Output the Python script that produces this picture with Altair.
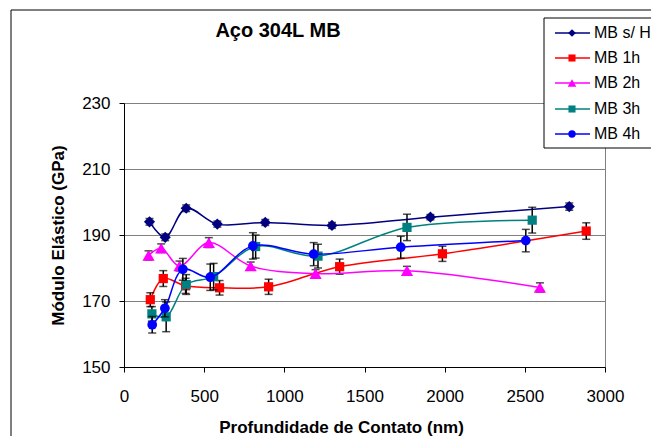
import altair as alt
import pandas as pd

# ---- data ----
series = ["MB s/ H", "MB 1h", "MB 2h", "MB 3h", "MB 4h"]
colors = ["#000080", "#FF0000", "#FF00FF", "#008080", "#0000FF"]
shapes = ["diamond", "square", "triangle-up", "square", "circle"]
sizes = [125, 85, 150, 85, 95]
leg_sizes = [60, 50, 75, 50, 55]

x_sh = [159, 257, 388, 582, 881, 1297, 1911, 2777]
y_sh = [194.0, 189.3, 198.1, 193.3, 193.8, 192.9, 195.4, 198.6]
e_sh = [1.0, 1.0, 1.0, 0.9, 0.9, 0.9, 0.8, 1.1]

x_1h = [164, 245, 384, 596, 902, 1345, 1986, 2883]
y_1h = [170.4, 176.8, 174.6, 174.0, 174.3, 180.4, 184.3, 191.2]
e_1h = [2.1, 2.4, 2.3, 2.2, 2.3, 2.3, 2.3, 2.5]

x_2h = [153, 232, 346, 529, 790, 1195, 1765, 2594]
y_2h = [183.8, 186.0, 180.6, 187.7, 180.6, 178.3, 179.2, 174.1]
e_2h = [1.4, 1.3, 1.5, 1.5, 1.2, 1.2, 1.3, 1.4]

x_3h = [174, 263, 388, 559, 821, 1210, 1765, 2546]
y_3h = [166.1, 165.2, 175.0, 177.4, 186.5, 183.6, 192.3, 194.5]
e_3h = [2.2, 4.5, 3.0, 4.0, 3.5, 3.6, 4.0, 3.9]

x_4h = [176, 255, 367, 538, 804, 1183, 1726, 2506]
y_4h = [162.8, 167.8, 179.6, 177.2, 186.7, 184.2, 186.3, 188.3]
e_4h = [2.5, 2.6, 3.3, 4.0, 4.0, 3.5, 3.3, 3.4]

xs = [x_sh, x_1h, x_2h, x_3h, x_4h]
ys = [y_sh, y_1h, y_2h, y_3h, y_4h]
es = [e_sh, e_1h, e_2h, e_3h, e_4h]

x_ticks = [0, 500, 1000, 1500, 2000, 2500, 3000]
y_ticks = [150, 170, 190, 210, 230]

FONT = "Liberation Sans"

x_axis = alt.Axis(values=x_ticks, format="d", grid=False, tickSize=5, tickColor="black",
                  domainColor="black", labelFont=FONT, labelFontSize=17,
                  labelColor="black", labelPadding=16, labelFlush=False,
                  title="Profundidade de Contato (nm)", titleFont=FONT,
                  titleFontSize=17, titleFontWeight="bold", titleColor="black",
                  titleX=217, titleY=60, titleAlign="center", titleBaseline="middle")
y_axis = alt.Axis(values=y_ticks, format="d", grid=True, gridColor="#808080", tickSize=5,
                  tickColor="black", domainColor="black", labelFont=FONT,
                  labelFontSize=17, labelColor="black", labelPadding=9,
                  title="Módulo Elástico (GPa)", titleFont=FONT, titleFontSize=17,
                  titleFontWeight="bold", titleColor="black", titleAngle=270,
                  titleX=-66, titleY=132, titleAlign="center", titleBaseline="middle")

xsc = alt.Scale(domain=[0, 3000], nice=False, zero=False)
ysc = alt.Scale(domain=[150, 230], nice=False, zero=False)

one = pd.DataFrame({"a": [0]})

layers = []
# outer chart border
layers.append(alt.Chart(one).mark_rect(fillOpacity=0, stroke="black", strokeWidth=1).encode(
    x=alt.value(-113), x2=alt.value(620), y=alt.value(-93), y2=alt.value(360)))

for i, name in enumerate(series):
    df = pd.DataFrame({"x": xs[i], "y": ys[i]})
    df["lo"] = [a - b for a, b in zip(ys[i], es[i])]
    df["hi"] = [a + b for a, b in zip(ys[i], es[i])]
    X = alt.X("x:Q", scale=xsc, axis=x_axis)
    base = alt.Chart(df)
    line = base.mark_line(color=colors[i], strokeWidth=1.5, interpolate="catmull-rom").encode(
        x=X, y=alt.Y("y:Q", scale=ysc, axis=y_axis))
    rule = base.mark_rule(color="black", strokeWidth=1.5).encode(
        x=X, y=alt.Y("lo:Q", scale=ysc, axis=y_axis), y2="hi:Q")
    cap_lo = base.mark_tick(orient="horizontal", size=8, thickness=1.5, color="black").encode(
        x=X, y=alt.Y("lo:Q", scale=ysc, axis=y_axis))
    cap_hi = base.mark_tick(orient="horizontal", size=8, thickness=1.5, color="black").encode(
        x=X, y=alt.Y("hi:Q", scale=ysc, axis=y_axis))
    pts = base.mark_point(shape=shapes[i], filled=True, size=sizes[i], color=colors[i],
                          opacity=1).encode(x=X, y=alt.Y("y:Q", scale=ysc, axis=y_axis))
    layers += [line, rule, cap_lo, cap_hi, pts]

# title
layers.append(alt.Chart(one).mark_text(font=FONT, fontSize=20, fontWeight="bold",
                                       color="black", align="center", baseline="middle").encode(
    x=alt.value(154), y=alt.value(-72), text=alt.value("Aço 304L MB")))

# legend box
layers.append(alt.Chart(one).mark_rect(fill="white", stroke="black", strokeWidth=1).encode(
    x=alt.value(420), x2=alt.value(620), y=alt.value(-85), y2=alt.value(45)))
leg_y = [-70, -45, -20, 6, 31]
for i, name in enumerate(series):
    layers.append(alt.Chart(one).mark_rule(color=colors[i], strokeWidth=1.5).encode(
        x=alt.value(431), x2=alt.value(466), y=alt.value(leg_y[i])))
    layers.append(alt.Chart(one).mark_point(shape=shapes[i], filled=True, size=leg_sizes[i],
                                            color=colors[i], opacity=1).encode(
        x=alt.value(448), y=alt.value(leg_y[i])))
    layers.append(alt.Chart(one).mark_text(font=FONT, fontSize=16, color="black",
                                           align="left", baseline="middle").encode(
        x=alt.value(470), y=alt.value(leg_y[i]), text=alt.value(name)))

chart = alt.layer(*layers).properties(
    width=481, height=264,
    padding={"left": 116, "top": 95, "right": 46, "bottom": 69},
    autosize=alt.AutoSizeParams(type="none"),
    background="white",
).configure_view(stroke="#808080", strokeWidth=1)

chart.save("out.html", embed_options={"renderer": "svg", "actions": False})
